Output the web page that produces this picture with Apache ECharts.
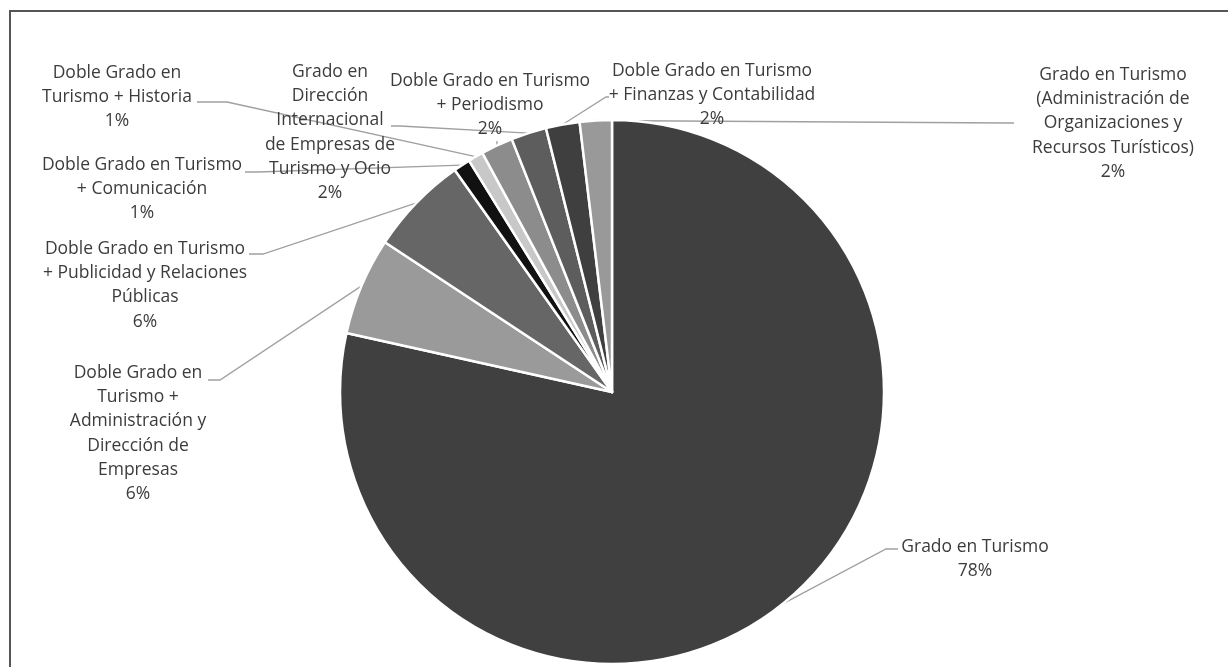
<!DOCTYPE html>
<html>
<head>
<meta charset="utf-8">
<script src="https://cdn.jsdelivr.net/npm/echarts@6/dist/echarts.min.js"></script>
<style>
html,body{margin:0;padding:0;background:#fff;}
#c{width:1228px;height:667px;}
</style>
</head>
<body>
<div id="c"></div>
<script>
// Categories (label text, wrapped as in the reference)
const categories = [
  "Grado en Turismo",
  "Doble Grado en\nTurismo +\nAdministración y\nDirección de\nEmpresas",
  "Doble Grado en Turismo\n+ Publicidad y Relaciones\nPúblicas",
  "Doble Grado en Turismo\n+ Comunicación",
  "Doble Grado en\nTurismo + Historia",
  "Doble Grado en Turismo\n+ Periodismo",
  "Grado en\nDirección\nInternacional\nde Empresas de\nTurismo y Ocio",
  "Doble Grado en Turismo\n+ Finanzas y Contabilidad",
  "Grado en Turismo\n(Administración de\nOrganizaciones y\nRecursos Turísticos)"
];
// Shares (%)
const values = [78.4, 5.8, 5.9, 1.0, 0.9, 1.9, 2.1, 2.0, 1.9];
const colors = ["#404040", "#9a9a9a", "#666666", "#111111", "#c8c8c8", "#8c8c8c", "#5d5d5d", "#3f3f3f", "#999999"];

// Label placement (text centre x, text top y) and leader line bend / end points
const labelPos = [
  [975, 535], [138, 361], [145, 237], [142, 153], [117, 61],
  [490, 69], [330, 60], [712, 59], [1113, 63]
];
const lineBend = [
  [[886, 549], [898, 549]],
  [[220, 380], [208, 380]],
  [[263, 254], [249, 254]],
  [[258, 172], [245, 172]],
  [[227, 102], [197, 102]],
  [[497, 141], [497, 141]],
  [[400, 126], [391, 126]],
  [[606, 97], [609, 97]],
  [[1008, 123], [1014, 123]]
];

const chart = echarts.init(document.getElementById('c'), null, {renderer: 'canvas'});
const data = categories.map((n, i) => ({name: n, value: values[i], itemStyle: {color: colors[i]}}));

chart.setOption({
  animation: false,
  graphic: [{
    type: 'rect', z: -1,
    shape: {x: 10, y: 11, width: 1240, height: 700},
    style: {fill: 'none', stroke: '#555', lineWidth: 2}
  }],
  series: [{
    type: 'pie',
    center: [612, 392],
    radius: [0, 272],
    startAngle: 90,
    clockwise: true,
    data: data,
    itemStyle: {borderColor: '#fff', borderWidth: 2.5},
    emphasis: {disabled: true},
    label: {
      show: true,
      position: 'outside',
      formatter: p => p.name + '\n' + Math.round(p.percent) + '%',
      fontFamily: 'Open Sans',
      fontSize: 17.5,
      lineHeight: 24.2,
      color: '#3c3c3c',
      align: 'center'
    },
    labelLine: {show: true, lineStyle: {color: '#a0a0a0', width: 1.3}},
    labelLayout: function (params) {
      const i = params.dataIndex;
      const start = params.labelLinePoints ? params.labelLinePoints[0] : lineBend[i][0];
      return {
        x: labelPos[i][0],
        y: labelPos[i][1],
        align: 'center',
        verticalAlign: 'top',
        labelLinePoints: [start, lineBend[i][0], lineBend[i][1]]
      };
    }
  }]
});
</script>
</body>
</html>
